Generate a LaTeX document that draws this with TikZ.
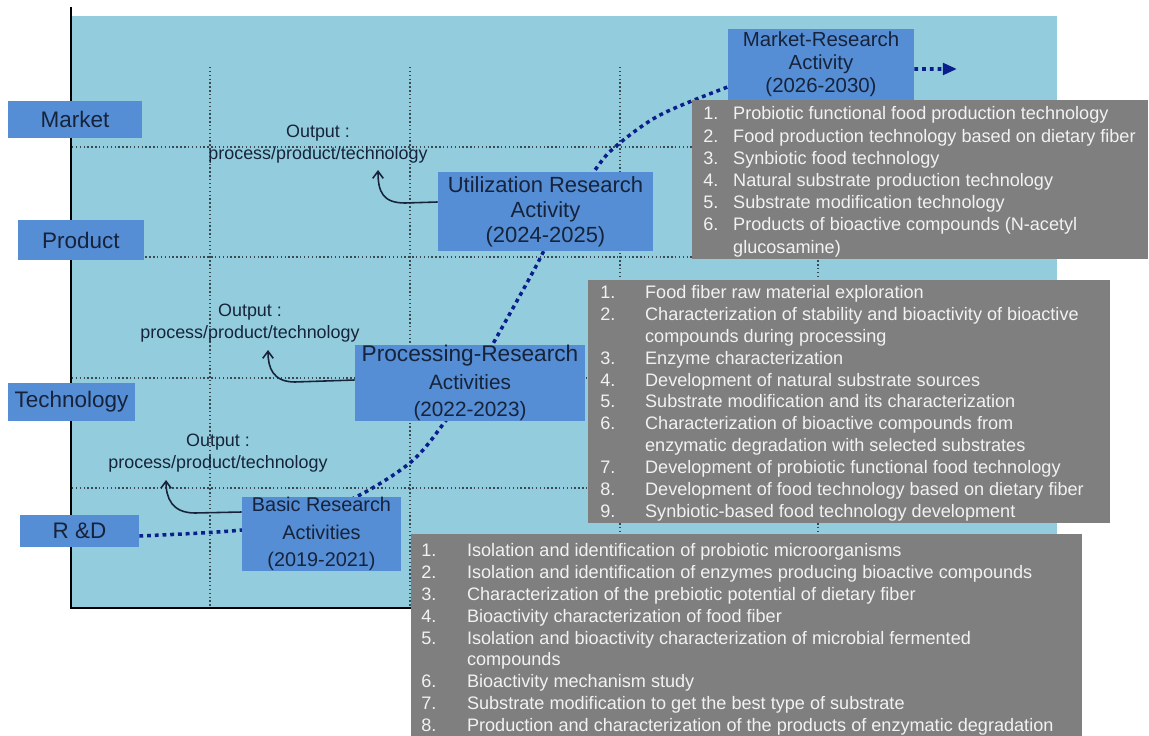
\documentclass[tikz,border=0pt]{standalone}
\usepackage{fontspec}
\setmainfont{Liberation Sans}
\usetikzlibrary{arrows.meta}
\definecolor{bgblue}{HTML}{93CDDD}
\definecolor{boxblue}{HTML}{558ED5}
\definecolor{graybox}{HTML}{7F7F7F}
\definecolor{listtext}{HTML}{F2F2F2}
\definecolor{darktext}{HTML}{16233A}
\definecolor{curveblue}{HTML}{0A1F8C}
\definecolor{gridc}{HTML}{3A4A50}
\pgfdeclarelayer{back}
\pgfdeclarelayer{mid}
\pgfsetlayers{back,mid,main}
\begin{document}
\begin{tikzpicture}[x=0.02cm,y=-0.02cm,
  bluebox/.style={fill=boxblue, draw=none, inner sep=0pt, text=darktext, align=center},
  lbl/.style={bluebox, font=\fontsize{12.8}{14}\selectfont},
  graypanel/.style={fill=graybox, draw=none, inner sep=0pt},
  listtxt/.style={text=listtext, inner sep=0pt, anchor=north west},
  outtxt/.style={text=darktext, align=center, inner sep=0pt, font=\fontsize{10.2}{12.5}\selectfont},
  gridline/.style={gridc, line width=0.6pt, dash pattern=on 0.8pt off 1.4pt},
  dotcurve/.style={curveblue, line width=2pt, dash pattern=on 2.2pt off 2.2pt},
  outarrow/.style={darktext, line width=0.9pt, -{Straight Barb[length=4pt,width=6pt]}},
]
\useasboundingbox (0,0) rectangle (1149,736);

\begin{pgfonlayer}{back}
\fill[bgblue] (72,16) rectangle (1057,607);
\foreach \x in {210,410,620,818} \draw[gridline] (\x,67) -- (\x,607);
\foreach \y in {147,257,378,488} \draw[gridline] (72,\y) -- (1057,\y);
\draw[black, line width=1.4pt] (71,7) -- (71,608) -- (1000,608);
\end{pgfonlayer}

% left labels
\node[lbl, minimum width=2.68cm, minimum height=0.74cm] (market) at (75,119.5) {Market};
\node[lbl, minimum width=2.52cm, minimum height=0.8cm] (product) at (81,240) {Product};
\node[lbl, minimum width=2.54cm, minimum height=0.76cm] (tech) at (71.5,402) {Technology};
\node[lbl, minimum width=2.38cm, minimum height=0.64cm] (rd) at (79.5,531) {R \&D};

% activity boxes
\node[bluebox, minimum width=3.18cm, minimum height=1.48cm, font=\fontsize{11.3}{15.6}\selectfont] (basic) at (321.5,534) {Basic Research\\Activities\\(2019-2021)};
\node[bluebox, minimum width=4.6cm, minimum height=1.48cm, font=\fontsize{11.8}{15.6}\selectfont] (proc) at (470,383) {{\fontsize{12.9}{15.6}\selectfont Processing-Research}\\Activities\\(2022-2023)};
\node[bluebox, minimum width=4.3cm, minimum height=1.58cm, font=\fontsize{12.5}{14.2}\selectfont] (util) at (545.5,211.5) {Utilization Research\\Activity\\(2024-2025)};
\node[bluebox, minimum width=3.72cm, minimum height=1.42cm, font=\fontsize{11.6}{13}\selectfont] (mr) at (821,64.5) {Market-Research\\Activity\\(2026-2030)};

% dotted S-curve
\begin{pgfonlayer}{mid}
\draw[dotcurve] plot[smooth, tension=0.55] coordinates {([yshift=-0.1cm]rd.east) (242,530) (300,518) (356,497) (411,462) (444,423) (470,385) (494,342) (534,270) (560,220) (595,170) (615,147) (660,115) ([yshift=-0.45cm]mr.west)};
\end{pgfonlayer}
\coordinate (endarrow) at (957,69);
\draw[dotcurve, -{Triangle[length=8pt,width=6.5pt]}] ([yshift=-0.09cm]mr.east) -- (endarrow);

% gray panels
\node[graypanel, minimum width=9.12cm, minimum height=3.18cm] (g1) at (920,179.5) {};
\node[graypanel, minimum width=10.44cm, minimum height=4.86cm] (g2) at (849,401.5) {};
\node[graypanel, minimum width=13.42cm, minimum height=4.22cm] (g3) at (746.5,639.5) {};

\node[listtxt, font=\fontsize{10.3}{12.64}\selectfont] (g1t) at (703,104) {\begin{tabular}{@{}p{17pt}@{}l@{}}
1. & Probiotic functional food production technology\\
2. & Food production technology based on dietary fiber\\
3. & Synbiotic food technology\\
4. & Natural substrate production technology\\
5. & Substrate modification technology\\
6. & Products of bioactive compounds (N-acetyl\\
   & glucosamine)
\end{tabular}};

\node[listtxt, font=\fontsize{10.3}{12.42}\selectfont] (g2t) at (600,283.2) {\begin{tabular}{@{}p{25.5pt}@{}l@{}}
1. & Food fiber raw material exploration\\
2. & Characterization of stability and bioactivity of bioactive\\
   & compounds during processing\\
3. & Enzyme characterization\\
4. & Development of natural substrate sources\\
5. & Substrate modification and its characterization\\
6. & Characterization of bioactive compounds from\\
   & enzymatic degradation with selected substrates\\
7. & Development of probiotic functional food technology\\
8. & Development of food technology based on dietary fiber\\
9. & Synbiotic-based food technology development
\end{tabular}};

\node[listtxt, font=\fontsize{10.3}{12.42}\selectfont] (g3t) at (421,541.2) {\begin{tabular}{@{}p{26pt}@{}l@{}}
1. & Isolation and identification of probiotic microorganisms\\
2. & Isolation and identification of enzymes producing bioactive compounds\\
3. & Characterization of the prebiotic potential of dietary fiber\\
4. & Bioactivity characterization of food fiber\\
5. & Isolation and bioactivity characterization of microbial fermented\\
   & compounds\\
6. & Bioactivity mechanism study\\
7. & Substrate modification to get the best type of substrate\\
8. & Production and characterization of the products of enzymatic degradation
\end{tabular}};

% outputs
\node[outtxt] (out3) at (318,144) {Output :\\process/product/technology};
\node[outtxt] (out2) at (250,323) {Output :\\process/product/technology};
\node[outtxt] (out1) at (218,453) {Output :\\process/product/technology};

\coordinate (o3tip) at (378,170);
\coordinate (o2tip) at (268,350);
\coordinate (o1tip) at (166,480);
\draw[outarrow] ([yshift=0.19cm]util.west) -- (405,203) .. controls (383,203) and (378,192) .. (o3tip);
\draw[outarrow] ([yshift=0.06cm]proc.west) -- (295,382) .. controls (273,382) and (268,368) .. (o2tip);
\draw[outarrow] ([yshift=0.44cm]basic.west) -- (195,513) .. controls (172,513) and (166,498) .. (o1tip);
\end{tikzpicture}
\end{document}
